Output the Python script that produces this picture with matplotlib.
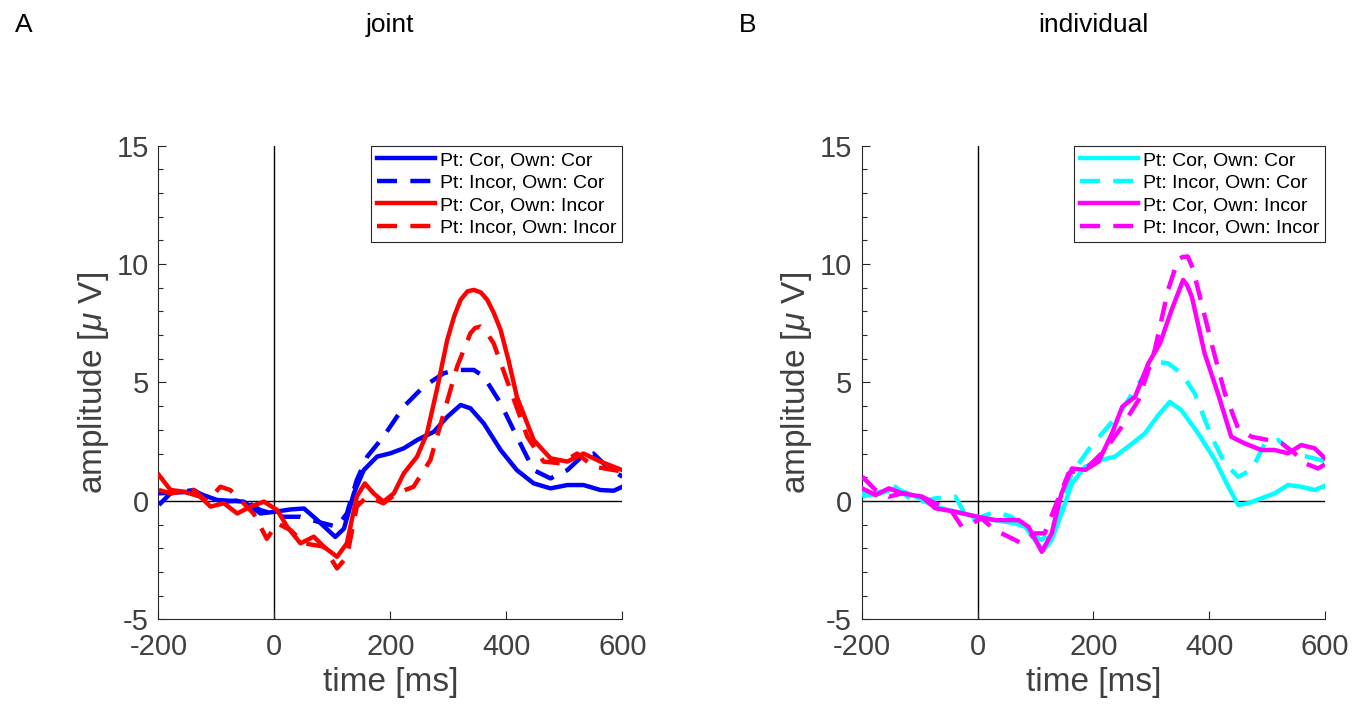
import numpy as np
import matplotlib
matplotlib.use("Agg")
import matplotlib.pyplot as plt
from matplotlib.ticker import MultipleLocator

plt.rcParams['font.family'] = ['Liberation Sans', 'DejaVu Sans']
plt.rcParams['mathtext.fontset'] = 'custom'
plt.rcParams['mathtext.it'] = 'Liberation Sans:italic'
plt.rcParams['mathtext.rm'] = 'Liberation Sans'
plt.rcParams['axes.unicode_minus'] = False

### Data (time in ms, amplitude in uV)
# joint - Pt: Cor, Own: Cor
j_cc_t = [-199, -139, -99, -53, -24, 0, 28, 51, 74, 105, 120, 137, 154, 177, 200, 223,
          246, 275, 298, 321, 338, 361, 390, 418, 447, 476, 505, 533, 562, 585, 600]
j_cc_v = [0.32, 0.39, 0.04, -0.03, -0.53, -0.46, -0.36, -0.32, -0.81, -1.52, -1.17, 0.32, 1.30, 1.87, 2.01, 2.22,
          2.57, 2.92, 3.55, 4.05, 3.91, 3.27, 2.15, 1.30, 0.74, 0.53, 0.67, 0.67, 0.46, 0.43, 0.60]
# joint - Pt: Incor, Own: Cor
j_ic_t = [-199, -179, -139, -110, -82, -53, -24, 16, 45, 85, 108, 125, 142, 160, 188, 223,
          257, 292, 315, 344, 361, 390, 418, 447, 476, 505, 533, 550, 573, 600]
j_ic_v = [-0.17, 0.32, 0.46, 0.04, -0.03, 0.04, -0.39, -0.67, -0.67, -0.95, -1.09, -0.53, 0.88, 1.87, 2.71, 3.98,
          4.82, 5.39, 5.53, 5.53, 5.25, 4.12, 2.71, 1.30, 0.95, 1.30, 1.94, 2.00, 1.45, 1.02]
# joint - Pt: Cor, Own: Incor
j_ci_t = [-199, -179, -156, -128, -110, -87, -64, -41, -18, 5, 22, 45, 68, 85, 108, 125, 142, 156,
          171, 188, 206, 223, 246, 263, 280, 298, 310, 321, 333, 344, 356, 367, 378, 390, 404, 418,
          447, 476, 505, 533, 562, 600]
j_ci_v = [1.09, 0.46, 0.39, 0.18, -0.24, -0.10, -0.53, -0.24, -0.03, -0.39, -1.09, -1.79, -1.51, -1.93, -2.36, -1.79, 0.18, 0.74,
          0.32, -0.03, 0.32, 1.16, 1.87, 2.85, 4.68, 6.80, 7.80, 8.49, 8.85, 8.91, 8.80, 8.49, 7.95, 7.22, 5.90, 4.40,
          2.57, 1.80, 1.66, 2.00, 1.66, 1.30]
# joint - Pt: Incor, Own: Incor
j_ii_t = [-199, -179, -139, -116, -93, -76, -53, -36, -13, 5, 28, 51, 85, 108, 125, 142, 160,
          188, 211, 240, 269, 292, 315, 338, 346, 355, 365, 378, 407, 436, 464, 493, 522, 550, 600]
j_ii_v = [0.46, 0.32, 0.46, -0.03, 0.60, 0.46, -0.10, -0.53, -1.60, -0.95, -1.23, -1.79, -1.93, -2.85, -2.36, -0.24, 0.18,
          -0.10, 0.32, 0.60, 1.73, 3.70, 5.67, 7.08, 7.30, 7.36, 7.15, 6.65, 4.68, 2.71, 1.66, 1.59, 2.00, 1.45, 1.24]

# individual - Pt: Cor, Own: Cor
i_cc_t = [-199, -176, -142, -107, -73, -38, 0, 30, 65, 82, 99, 114, 128, 145, 163, 186, 214,
          237, 260, 289, 312, 332, 352, 381, 410, 433, 450, 467, 490, 513, 536, 559, 582, 603]
i_cc_v = [0.32, 0.25, 0.53, 0.18, -0.24, -0.46, -0.67, -0.81, -0.95, -1.09, -1.65, -2.08, -1.65, -0.53, 0.74, 1.45, 1.73,
          1.87, 2.29, 2.85, 3.62, 4.18, 3.83, 2.85, 1.73, 0.60, -0.17, -0.10, 0.11, 0.32, 0.67, 0.60, 0.46, 0.67]
# individual - Pt: Incor, Own: Cor
i_ic_t = [-199, -176, -142, -107, -73, -38, -15, 0, 30, 59, 88, 111, 128, 145, 163, 191, 220,
          249, 278, 306, 329, 352, 375, 404, 427, 450, 473, 496, 519, 548, 603]
i_ic_v = [0.18, 0.32, 0.60, -0.10, 0.11, 0.18, -0.88, -0.74, -0.46, -0.67, -1.37, -1.65, -1.23, 0.04, 1.16, 2.15, 2.99,
          3.83, 4.96, 5.88, 5.81, 5.39, 4.54, 2.71, 1.59, 1.02, 1.31, 2.43, 2.57, 2.00, 1.66]
# individual - Pt: Cor, Own: Incor
i_ci_t = [-199, -176, -153, -130, -96, -73, -38, 0, 30, 71, 88, 111, 128, 145, 163, 186, 209,
          232, 250, 272, 295, 315, 335, 355, 362, 370, 392, 415, 438, 461, 490, 513, 536, 559, 582, 603]
i_ci_v = [0.53, 0.25, 0.53, 0.32, 0.18, -0.31, -0.46, -0.67, -0.81, -0.81, -1.09, -2.15, -1.37, 0.32, 1.37, 1.31, 1.66,
          2.85, 3.98, 4.40, 5.81, 6.65, 8.06, 9.33, 9.10, 8.62, 6.23, 4.54, 2.71, 2.43, 2.15, 2.15, 2.01, 2.36, 2.22, 1.73]
# individual - Pt: Incor, Own: Incor
i_ii_t = [-199, -176, -153, -130, -102, -73, -50, -27, -10, 7, 30, 65, 76, 99, 116, 134, 157,
          191, 220, 249, 278, 306, 329, 346, 354, 363, 372, 381, 404, 427, 450, 473, 502, 525, 548, 565, 588, 603]
i_ii_v = [1.02, 0.46, 0.18, 0.32, 0.25, -0.10, -0.24, -1.09, -0.95, -0.74, -1.23, -1.65, -1.79, -1.37, -1.37, -0.24, 1.16,
          1.45, 2.15, 3.13, 4.26, 6.37, 8.91, 10.18, 10.30, 10.32, 9.80, 8.91, 6.65, 4.54, 3.06, 2.71, 2.57, 2.43, 2.00, 1.59, 1.37, 1.59]

labels = ['Pt: Cor, Own: Cor', 'Pt: Incor, Own: Cor', 'Pt: Cor, Own: Incor', 'Pt: Incor, Own: Incor']
titles = ['joint', 'individual']
panels = ['A', 'B']

joint = [(j_cc_t, j_cc_v), (j_ic_t, j_ic_v), (j_ci_t, j_ci_v), (j_ii_t, j_ii_v)]
indiv = [(i_cc_t, i_cc_v), (i_ic_t, i_ic_v), (i_ci_t, i_ci_v), (i_ii_t, i_ii_v)]
colors = [['#0000ff', '#0000ff', '#ff0000', '#ff0000'],
          ['#00ffff', '#00ffff', '#ff00ff', '#ff00ff']]
styles = ['-', '--', '-', '--']

fig = plt.figure(figsize=(13.71, 7.07), dpi=100)
ax_pos = [[0.1155, 0.124, 0.3385, 0.67], [0.6285, 0.124, 0.338, 0.67]]
tcol = '#404040'

for k, data in enumerate([joint, indiv]):
    ax = fig.add_axes(ax_pos[k])
    ax.axvline(0, color='black', lw=1, zorder=1)
    ax.axhline(0, color='black', lw=1, zorder=1)
    for (t, v), c, ls, lab in zip(data, colors[k], styles, labels):
        line, = ax.plot(t, v, color=c, lw=3.2, label=lab, zorder=3,
                        solid_joinstyle='round', dash_joinstyle='round')
        if ls == '--':
            line.set_dashes((4.5, 3))
    ax.set_xlim(-200, 600)
    ax.set_ylim(-5, 15)
    ax.set_xticks([-200, 0, 200, 400, 600])
    ax.set_yticks([-5, 0, 5, 10, 15])
    ax.yaxis.set_minor_locator(MultipleLocator(1))
    ax.spines['top'].set_visible(False)
    ax.spines['right'].set_visible(False)
    for s in ['left', 'bottom']:
        ax.spines[s].set_color('#262626')
        ax.spines[s].set_linewidth(0.8)
    ax.tick_params(which='both', direction='in', colors='#262626', labelcolor=tcol, labelsize=21, width=0.8)
    ax.tick_params(which='major', length=6)
    ax.tick_params(which='minor', length=3.5)
    ax.tick_params(axis='x', pad=10)
    ax.tick_params(axis='y', pad=7)
    ax.set_xlabel('time [ms]', fontsize=24, color=tcol, labelpad=4)
    ax.set_ylabel(r'amplitude [$\mu$ V]', fontsize=24, color=tcol, labelpad=4)
    leg = ax.legend(loc='upper right', fontsize=14, frameon=True, fancybox=False,
                    edgecolor='#262626', framealpha=1, handlelength=3.0, handletextpad=0.25,
                    labelspacing=0.25, borderpad=0.3, borderaxespad=0.0)
    leg.get_frame().set_linewidth(0.8)
    cx = ax_pos[k][0] + ax_pos[k][2] / 2
    fig.text(cx, 0.965, titles[k], fontsize=19, ha='center', va='center')

fig.text(0.011, 0.965, panels[0], fontsize=19, ha='left', va='center')
fig.text(0.539, 0.965, panels[1], fontsize=19, ha='left', va='center')

fig.savefig('out.png', dpi=100)
